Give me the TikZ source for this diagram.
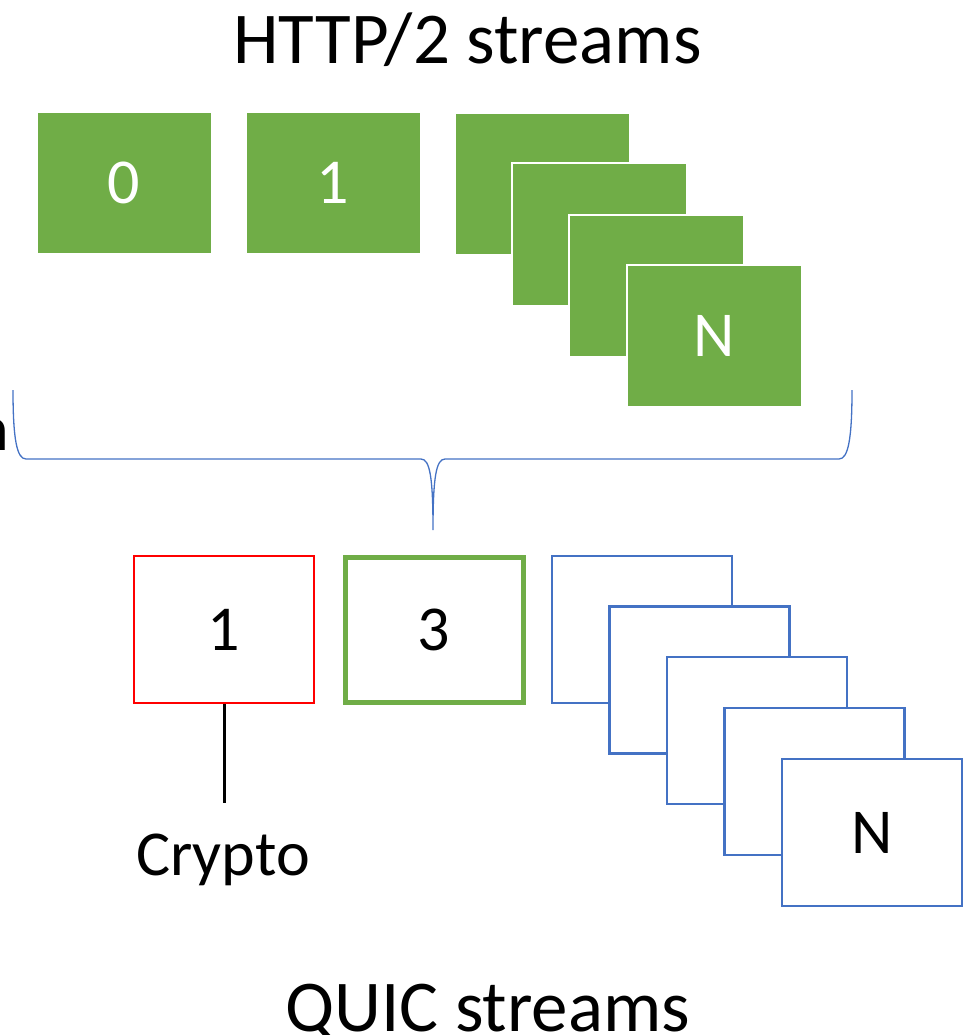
\documentclass[tikz,border=0pt]{standalone}
\usepackage{fontspec}
\setmainfont{Carlito}
\definecolor{hgreen}{HTML}{70AD47}
\definecolor{qblue}{HTML}{4472C4}
\definecolor{qred}{HTML}{FF0000}
\begin{document}
\begin{tikzpicture}[x=1pt,y=-1pt,
  hbox/.style={draw=white,line width=2pt,fill=hgreen,text=white,minimum width=175pt,minimum height=142pt,inner sep=0pt,font=\fontsize{64}{70}\selectfont},
  qbox/.style={draw=qblue,line width=2.5pt,fill=white,minimum width=180pt,minimum height=147pt,inner sep=0pt,font=\fontsize{64}{70}\selectfont},
  title/.style={font=\fontsize{73}{80}\selectfont,inner sep=0pt,anchor=base},
  lbl/.style={font=\fontsize{64}{70}\selectfont,inner sep=0pt,anchor=base}]
\useasboundingbox (0,0) rectangle (965,1035);
% titles
\node[title] (t1) at (467.5,64) {HTTP/2 streams};
\node[title] (t2) at (487.5,1031) {QUIC streams};
\node[lbl,anchor=base east] (cut) at (9,450) {n};
% HTTP/2 streams
\node[hbox] (h0) at (124,183) {0};
\node[hbox] (h1) at (333,183) {1};
\node[hbox] (ha) at (542,184) {};
\node[hbox] (hb) at (599.5,234.5) {};
\node[hbox] (hc) at (656.5,285.5) {};
\node[hbox] (hN) at (714.5,335.5) {N};
% brace
\coordinate (bl) at (13,390);
\coordinate (bm) at (433,530);
\coordinate (br) at (852,390);
\draw[qblue,line width=1.3pt] (bl) .. controls (13,440) and (17,459) .. (26,459)
  -- (421,459) .. controls (430,459) and (433,478) .. (bm)
  .. controls (433,478) and (436,459) .. (445,459)
  -- (839,459) .. controls (848,459) and (852,440) .. (br);
% QUIC streams
\node[draw=qred,line width=2pt,minimum width=180pt,minimum height=147pt,inner sep=0pt,font=\fontsize{64}{70}\selectfont] (q1) at (224,629.5) {1};
\node[draw=hgreen,line width=5pt,minimum width=178pt,minimum height=145pt,inner sep=0pt,font=\fontsize{64}{70}\selectfont] (q3) at (434,629.5) {3};
\node[qbox] (qa) at (642,629.5) {};
\node[qbox] (qb) at (699.5,680) {};
\node[qbox] (qc) at (757,730.5) {};
\node[qbox] (qd) at (814.5,781.5) {};
\node[qbox] (qN) at (872,832.5) {N};
% crypto
\coordinate (ce) at (224,803);
\draw[black,line width=3pt] (q1.south) -- (ce);
\node[lbl] (cr) at (223,875) {Crypto};
\end{tikzpicture}
\end{document}
